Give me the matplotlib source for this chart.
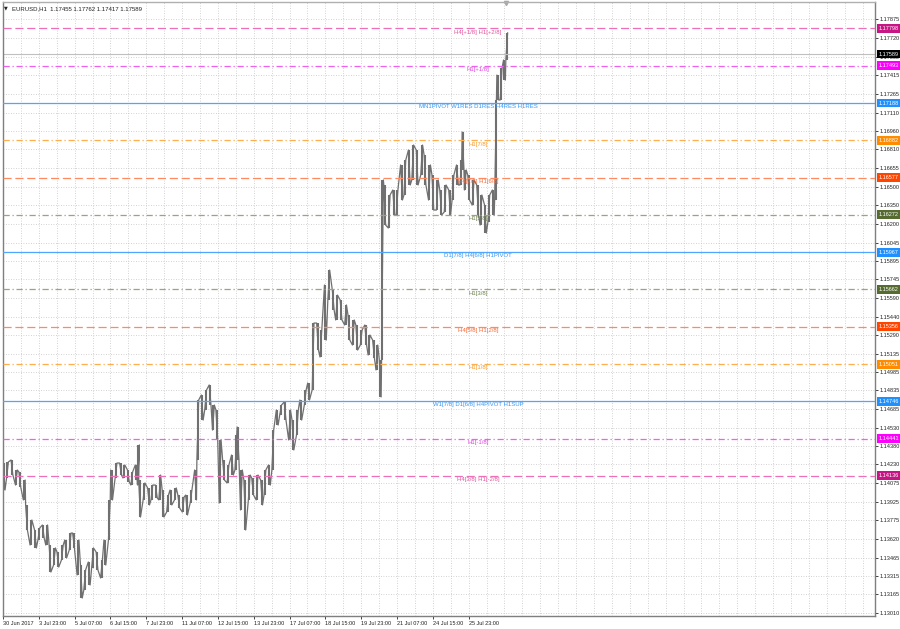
import matplotlib
matplotlib.use('Agg')
import matplotlib.pyplot as plt
import matplotlib.transforms as mtransforms

plt.rcParams['font.family'] = ['Liberation Sans', 'DejaVu Sans']

# hourly bars (bar index, high, low)
bars = [1, 4, 8, 12, 15, 19, 21, 25, 29, 32, 36, 39, 42, 46, 49, 53, 56, 60, 63, 67,
        70, 73, 77, 80, 84, 88, 91, 95, 97, 101, 105, 108, 112, 115, 119, 121, 122, 126, 130, 133,
        137, 140, 143, 147, 150, 154, 157, 161, 164, 168, 172, 174, 178, 181, 185, 188, 191, 194, 197, 201,
        205, 208, 210, 213, 216, 220, 223, 227, 231, 234, 238, 241, 245, 248, 252, 256, 259, 263, 266, 270,
        273, 277, 281, 284, 288, 291, 295, 298, 302, 306, 309, 313, 316, 320, 324, 327, 331, 334, 337, 339,
        341, 345, 349, 352, 356, 359, 363, 366, 370, 374, 377, 381, 384, 388, 391, 395, 399, 402, 406, 409,
        411, 413, 416, 420, 424, 427, 431, 434, 438, 440, 442, 445, 448, 450]
highs = [1.14241, 1.14250, 1.14266, 1.14184, 1.14168, 1.14102, 1.13898, 1.13775, 1.13693, 1.13709,
         1.13734, 1.13734, 1.13570, 1.13546, 1.13513, 1.13570, 1.13611, 1.13668, 1.13668, 1.13611,
         1.13406, 1.13366, 1.13431, 1.13546, 1.13513, 1.13447, 1.13611, 1.13939, 1.14184, 1.14241,
         1.14241, 1.14225, 1.14184, 1.14168, 1.14225, 1.14389, 1.14102, 1.14078, 1.14037, 1.14061,
         1.14061, 1.14143, 1.14020, 1.13979, 1.14020, 1.14037, 1.13979, 1.13963, 1.13979, 1.14020,
         1.14184, 1.14757, 1.14798, 1.14839, 1.14880, 1.14716, 1.14675, 1.14430, 1.14266, 1.14225,
         1.14307, 1.14471, 1.14536, 1.14184, 1.14102, 1.14143, 1.14119, 1.14143, 1.14102, 1.14184,
         1.14225, 1.14511, 1.14675, 1.14716, 1.14741, 1.14675, 1.14593, 1.14675, 1.14757, 1.14839,
         1.14896, 1.15387, 1.15387, 1.15330, 1.15698, 1.15821, 1.15657, 1.15616, 1.15576, 1.15535,
         1.15453, 1.15412, 1.15371, 1.15330, 1.15371, 1.15289, 1.15248, 1.15207, 1.15084, 1.16558,
         1.16517, 1.16435, 1.16476, 1.16476, 1.16681, 1.16721, 1.16803, 1.16844, 1.16803, 1.16844,
         1.16762, 1.16681, 1.16599, 1.16558, 1.16476, 1.16517, 1.16476, 1.16599, 1.16681, 1.16721,
         1.16951, 1.16640, 1.16599, 1.16558, 1.16517, 1.16435, 1.16353, 1.16435, 1.16476, 1.17213,
         1.17417, 1.17474, 1.17540, 1.17762]
lows = [1.14020, 1.14119, 1.14143, 1.14061, 1.14045, 1.13939, 1.13693, 1.13570, 1.13546, 1.13611,
        1.13627, 1.13570, 1.13349, 1.13406, 1.13390, 1.13447, 1.13464, 1.13529, 1.13546, 1.13325,
        1.13136, 1.13202, 1.13243, 1.13382, 1.13366, 1.13300, 1.13406, 1.13611, 1.13939, 1.14119,
        1.14143, 1.14119, 1.14086, 1.14061, 1.14102, 1.14061, 1.13799, 1.13939, 1.13898, 1.13939,
        1.13955, 1.13939, 1.13799, 1.13840, 1.13898, 1.13939, 1.13873, 1.13840, 1.13816, 1.13914,
        1.13939, 1.14266, 1.14593, 1.14675, 1.14716, 1.14511, 1.14430, 1.13914, 1.14102, 1.14078,
        1.14143, 1.14184, 1.14266, 1.13857, 1.13693, 1.13939, 1.13979, 1.13939, 1.13898, 1.13979,
        1.14061, 1.14184, 1.14552, 1.14634, 1.14593, 1.14430, 1.14348, 1.14471, 1.14593, 1.14716,
        1.14757, 1.14839, 1.15166, 1.15109, 1.15248, 1.15576, 1.15494, 1.15412, 1.15412, 1.15371,
        1.15248, 1.15207, 1.15166, 1.15207, 1.15207, 1.15125, 1.15101, 1.15003, 1.14782, 1.15084,
        1.16189, 1.16165, 1.16271, 1.16271, 1.16394, 1.16435, 1.16517, 1.16558, 1.16517, 1.16599,
        1.16517, 1.16394, 1.16312, 1.16312, 1.16271, 1.16296, 1.16271, 1.16394, 1.16517, 1.16517,
        1.16640, 1.16476, 1.16394, 1.16353, 1.16271, 1.16189, 1.16124, 1.16214, 1.16271, 1.16394,
        1.17213, 1.17213, 1.17376, 1.17540]

bid = 1.17589
header = 'EURUSD,H1  1.17455 1.17762 1.17417 1.17589'

# murrey / pivot levels
level_prices = [1.17798, 1.17493, 1.17188, 1.16882, 1.16577, 1.16272, 1.15967,
                1.15662, 1.15356, 1.15051, 1.14746, 1.14441, 1.14136]
level_names = ['H4[+1/8] H1[+2/8]', 'H1[+1/8]', 'MN1PIVOT W1RES D1RES H4RES H1RES',
               'H1[7/8]', 'H4[7/8] H1[6/8]', 'H1[5/8]', 'D1[7/8] H4[6/8] H1PIVOT',
               'H1[3/8]', 'H4[5/8] H1[2/8]', 'H1[1/8]', 'W1[7/8] D1[6/8] H4PIVOT H1SUP',
               'H1[-1/8]', 'H4[3/8] H1[-2/8]']
level_kind = ['pink', 'magenta', 'blue', 'orange', 'red', 'olive', 'blue',
              'olive', 'red', 'orange', 'blue', 'magenta', 'pink']

price_ticks = [1.17875, 1.17720, 1.17565, 1.17415, 1.17265, 1.17110, 1.16960, 1.16810,
               1.16655, 1.16500, 1.16350, 1.16200, 1.16045, 1.15895, 1.15745, 1.15590,
               1.15440, 1.15290, 1.15135, 1.14985, 1.14835, 1.14685, 1.14530, 1.14380,
               1.14230, 1.14075, 1.13925, 1.13775, 1.13620, 1.13465, 1.13315, 1.13165, 1.13010]
date_labels = ['30 Jun 2017', '3 Jul 23:00', '5 Jul 07:00', '6 Jul 15:00', '7 Jul 23:00',
               '11 Jul 07:00', '12 Jul 15:00', '13 Jul 23:00', '17 Jul 07:00', '18 Jul 15:00',
               '19 Jul 23:00', '21 Jul 07:00', '24 Jul 15:00', '25 Jul 23:00']

styles = {
    'pink':    dict(line='#ec6fb8', text='#e0559f', box='#c71585', ls=(0, (6.5, 3))),
    'magenta': dict(line='#f060f0', text='#e040e0', box='#ff00ff', ls=(0, (5, 2.2, 1, 2.2))),
    'blue':    dict(line='#4ea6ff', text='#3a96f0', box='#1e90ff', ls='-'),
    'orange':  dict(line='#ffae4d', text='#f59a2a', box='#ff8c00', ls=(0, (5, 2.2, 1, 2.2))),
    'red':     dict(line='#ff8a60', text='#f56a3a', box='#ff4500', ls=(0, (6.5, 3))),
    'olive':   dict(line='#9aa580', text='#6f8050', box='#556b2f', ls=(0, (5, 2.2, 1, 2.2))),
}

fig = plt.figure(figsize=(9, 6.29), dpi=100)
fig.patch.set_facecolor('white')
ax = fig.add_axes([3 / 900, 13 / 629, 872 / 900, 614.5 / 629])
ax.set_xlim(0, 779)
ax.set_ylim(1.12989, 1.18019)

# grid
ax.set_xticks(range(0, 779, 16), minor=True)
ax.set_xticks([32 * i for i in range(len(date_labels))])
ax.set_xticklabels(date_labels, fontsize=4)
for lbl in ax.get_xticklabels():
    lbl.set_horizontalalignment('left')
ax.yaxis.tick_right()
ax.set_yticks(price_ticks)
ax.set_yticklabels(['%.5f' % p for p in price_ticks], fontsize=4)
ax.grid(which='both', color='#c4c4c4', linestyle=(0, (1, 2)), lw=0.6)
ax.set_axisbelow(True)
ax.tick_params(axis='y', length=2, pad=1, width=0.6, colors='#222222')
ax.tick_params(axis='x', which='major', length=2, pad=1.5, width=0.6, colors='#222222')
ax.tick_params(axis='x', which='minor', length=0)
for s in ax.spines.values():
    s.set_color('#7f7f7f')
    s.set_linewidth(1.0)
ax.spines['top'].set_color('#b0b0b0')

# price bars
zx, zy = [], []
for i, b in enumerate(bars):
    if i % 2 == 0:
        zx += [b - 0.8, b + 0.8]
        zy += [highs[i], lows[i]]
    else:
        zx += [b - 0.8, b + 0.8]
        zy += [lows[i], highs[i]]
ax.vlines(bars, lows, highs, color='#707070', lw=1.5, zorder=2)
ax.plot(zx, zy, color='#707070', lw=0.9, zorder=2)

# bid line
ax.axhline(bid, color='#c0c0c0', lw=0.8, zorder=2.5)

yt = mtransforms.blended_transform_factory(ax.transAxes, ax.transData)
for p, name, k in zip(level_prices, level_names, level_kind):
    st = styles[k]
    ax.axhline(p, color=st['line'], lw=0.9, ls=st['ls'], zorder=3)
    ax.annotate(name, (424.5, p), xytext=(0, -0.8), textcoords='offset points',
                ha='center', va='top', fontsize=4.3, color=st['text'], zorder=4)
    ax.text(1.0045, p, '%.5f' % p, transform=yt, ha='left', va='center', fontsize=4,
            color='white', clip_on=False, zorder=6,
            bbox=dict(boxstyle='square,pad=0.35', fc=st['box'], ec='none'))

ax.text(1.0045, bid, '%.5f' % bid, transform=yt, ha='left', va='center', fontsize=4,
        color='white', clip_on=False, zorder=6,
        bbox=dict(boxstyle='square,pad=0.35', fc='black', ec='none'))

ax.text(0.0015, 0.993, '\u25bc', transform=ax.transAxes, fontsize=3.5, va='top',
        ha='left', color='#222222', family=['DejaVu Sans'])
ax.text(0.0105, 0.993, header, transform=ax.transAxes, fontsize=4.3, va='top',
        ha='left', color='#222222')

xt = mtransforms.blended_transform_factory(ax.transData, ax.transAxes)
ax.plot([449], [0.997], marker='v', ms=3, color='#a8a8a8', transform=xt, clip_on=False)

fig.savefig('out.png', dpi=100, facecolor='white')
